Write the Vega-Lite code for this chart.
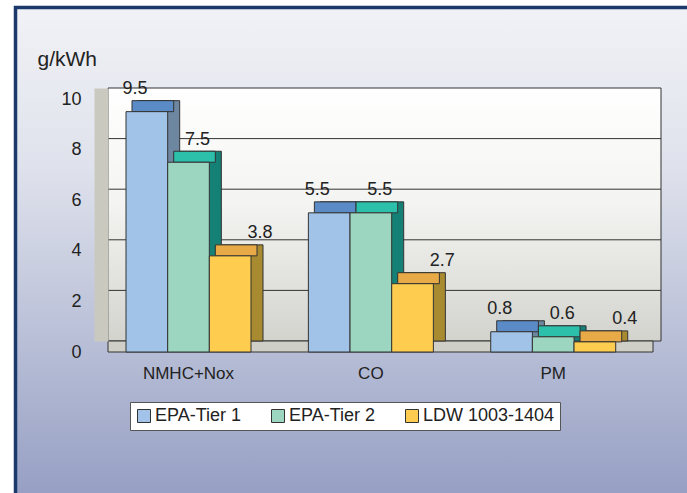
{
  "$schema": "https://vega.github.io/schema/vega-lite/v6.json",
  "width": 553,
  "height": 253,
  "autosize": {"type": "none"},
  "padding": {"left": 108, "top": 88, "right": 26, "bottom": 152},
  "background": "white",
  "datasets": {
    "emissions": [
      {"cat": "NMHC+Nox", "series": "EPA-Tier 1", "value": 9.5},
      {"cat": "NMHC+Nox", "series": "EPA-Tier 2", "value": 7.5},
      {"cat": "NMHC+Nox", "series": "LDW 1003-1404", "value": 3.8},
      {"cat": "CO", "series": "EPA-Tier 1", "value": 5.5},
      {"cat": "CO", "series": "EPA-Tier 2", "value": 5.5},
      {"cat": "CO", "series": "LDW 1003-1404", "value": 2.7},
      {"cat": "PM", "series": "EPA-Tier 1", "value": 0.8},
      {"cat": "PM", "series": "EPA-Tier 2", "value": 0.6},
      {"cat": "PM", "series": "LDW 1003-1404", "value": 0.4}
    ],
    "grid": [{"v": 2}, {"v": 4}, {"v": 6}, {"v": 8}],
    "one": [{}]
  },
  "layer": [
    {
      "data": {"name": "one"},
      "mark": {
        "type": "rect",
        "xOffset": -185,
        "x2Offset": 200,
        "yOffset": -80.5,
        "y2Offset": 200,
        "stroke": "#1b3a6c",
        "strokeWidth": 3.5,
        "fill": {
          "gradient": "linear", "x1": 0, "y1": 0, "x2": 0, "y2": 1,
          "stops": [
            {"offset": 0, "color": "#f1f2f6"},
            {"offset": 0.3, "color": "#dfe2ec"},
            {"offset": 0.91, "color": "#97a0c4"},
            {"offset": 1, "color": "#8e98be"}
          ]
        }
      },
      "encoding": {
        "x": {"datum": "NMHC+Nox", "type": "nominal", "title": null, "axis": {"zindex": 1}},
        "x2": {"datum": "PM"},
        "y": {"datum": 10, "type": "quantitative", "title": "g/kWh", "axis": {"zindex": 1}},
        "y2": {"datum": 0}
      }
    },
    {
      "data": {"name": "one"},
      "mark": {
        "type": "rect",
        "stroke": "#333333",
        "strokeWidth": 1,
        "fill": {
          "gradient": "linear", "x1": 0, "y1": 0, "x2": 0, "y2": 1,
          "stops": [
            {"offset": 0, "color": "#ffffff"},
            {"offset": 0.45, "color": "#f4f4f2"},
            {"offset": 1, "color": "#d3d3ce"}
          ]
        }
      },
      "encoding": {}
    },
    {
      "data": {"name": "grid"},
      "mark": {"type": "rule", "stroke": "#333333", "strokeWidth": 1},
      "encoding": {
        "y": {"field": "v", "type": "quantitative", "title": "g/kWh", "axis": {"zindex": 1}, "scale": {"domain": [0, 10], "nice": false}}
      }
    },
    {
      "data": {"name": "one"},
      "mark": {"type": "rect", "fill": "#cfcfc8", "stroke": "#333333", "strokeWidth": 1, "yOffset": 11, "xOffset": -8},
      "encoding": {
        "y": {"datum": 0, "type": "quantitative", "title": "g/kWh", "axis": {"zindex": 1}},
        "y2": {"datum": 0}
      }
    },
    {
      "data": {"name": "emissions"},
      "mark": {"type": "bar", "stroke": "#333333", "strokeWidth": 1},
      "encoding": {
        "x": {"field": "cat", "type": "nominal", "title": null, "sort": ["NMHC+Nox", "CO", "PM"], "axis": {"zindex": 1},
              "scale": {"paddingInner": 0.3146, "paddingOuter": 0.1736, "align": 0.474}},
        "xOffset": {"field": "series", "type": "nominal", "sort": ["EPA-Tier 1", "EPA-Tier 2", "LDW 1003-1404"],
                    "scale": {"paddingInner": 0, "paddingOuter": 0, "range": [0, 125]}},
        "y": {"field": "value", "type": "quantitative", "title": "g/kWh", "axis": {"zindex": 1}},
        "y2": {"datum": 0},
        "color": {"field": "series", "type": "nominal", "legend": null,
                  "scale": {"domain": ["EPA-Tier 1", "EPA-Tier 2", "LDW 1003-1404"], "range": ["#6d87a1", "#158076", "#a88a30"]}}
      }
    },
    {
      "data": {"name": "emissions"},
      "mark": {"type": "bar", "stroke": "#333333", "strokeWidth": 1, "y2Offset": 11},
      "encoding": {
        "x": {"field": "cat", "type": "nominal", "title": null, "sort": ["NMHC+Nox", "CO", "PM"], "axis": {"zindex": 1}},
        "xOffset": {"field": "series", "type": "nominal", "sort": ["EPA-Tier 1", "EPA-Tier 2", "LDW 1003-1404"],
                    "scale": {"paddingInner": 0, "paddingOuter": 0, "range": [-6, 119]}},
        "y": {"field": "value", "type": "quantitative", "title": "g/kWh", "axis": {"zindex": 1}},
        "y2": {"field": "value"},
        "color": {"field": "series", "type": "nominal", "legend": null,
                  "scale": {"domain": ["EPA-Tier 1", "EPA-Tier 2", "LDW 1003-1404"], "range": ["#5b8bc6", "#2cbfaa", "#e7aa46"]}}
      }
    },
    {
      "data": {"name": "emissions"},
      "mark": {"type": "bar", "stroke": "#333333", "strokeWidth": 1, "yOffset": 11, "y2Offset": 11},
      "encoding": {
        "x": {"field": "cat", "type": "nominal", "title": null, "sort": ["NMHC+Nox", "CO", "PM"], "axis": {"zindex": 1}},
        "xOffset": {"field": "series", "type": "nominal", "sort": ["EPA-Tier 1", "EPA-Tier 2", "LDW 1003-1404"],
                    "scale": {"paddingInner": 0, "paddingOuter": 0, "range": [-12, 113]}},
        "y": {"field": "value", "type": "quantitative", "title": "g/kWh", "axis": {"zindex": 1}},
        "y2": {"datum": 0},
        "color": {"field": "series", "type": "nominal",
                  "scale": {"domain": ["EPA-Tier 1", "EPA-Tier 2", "LDW 1003-1404"], "range": ["#a1c3e8", "#9cd6c1", "#fecd4f"]},
                  "legend": {
                    "title": null, "orient": "none", "legendX": 22, "legendY": 314, "direction": "horizontal",
                    "fillColor": "#ffffff", "strokeColor": "#555555", "padding": 5,
                    "symbolType": "square", "symbolSize": 169, "symbolStrokeColor": "#333333", "symbolStrokeWidth": 1,
                    "labelFontSize": 18, "labelFont": "Liberation Sans, Arial, sans-serif",
                    "labelColor": "#222222", "labelOffset": 2, "columnPadding": 27
                  }}
      }
    },
    {
      "data": {"name": "emissions"},
      "mark": {"type": "text", "dy": -6.5, "baseline": "alphabetic", "fontSize": 18,
               "font": "Liberation Sans, Arial, sans-serif", "color": "#222222"},
      "encoding": {
        "x": {"field": "cat", "type": "nominal", "title": null, "sort": ["NMHC+Nox", "CO", "PM"], "axis": {"zindex": 1}},
        "xOffset": {"field": "series", "type": "nominal", "sort": ["EPA-Tier 1", "EPA-Tier 2", "LDW 1003-1404"],
                    "scale": {"paddingInner": 0, "paddingOuter": 0, "range": [-3, 122]}},
        "y": {"field": "value", "type": "quantitative", "title": "g/kWh", "axis": {"zindex": 1}},
        "text": {"field": "value", "type": "quantitative", "format": ".1f"}
      }
    }
  ],
  "resolve": {"scale": {"color": "independent", "xOffset": "independent"}},
  "config": {
    "view": {"stroke": null},
    "font": "Liberation Sans, Arial, sans-serif",
    "axisY": {
      "labelOffset": 11, "labelPadding": 20, "ticks": false, "grid": false,
      "domainColor": "#c9c9c0", "domainWidth": 14, "offset": 7,
      "labelFontSize": 18, "labelColor": "#222222", "tickCount": 5,
      "titleAngle": 0, "titleX": -64, "titleY": -23, "titleAlign": "left", "titleBaseline": "alphabetic",
      "titleFontSize": 21, "titleFontWeight": "normal", "titleColor": "#222222"
    },
    "axisX": {
      "domain": false, "ticks": false, "grid": false, "labelOffset": -12, "labelPadding": 24,
      "labelAngle": 0, "labelFontSize": 17, "labelColor": "#222222"
    }
  }
}
